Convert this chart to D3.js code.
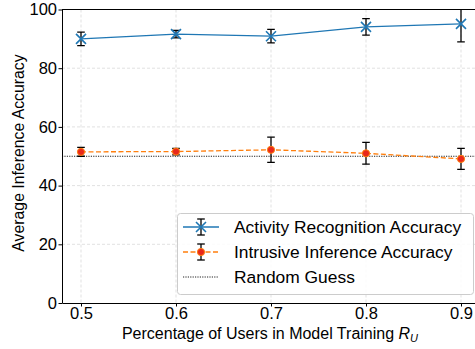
<!DOCTYPE html>
<html>
<head>
<meta charset="utf-8">
<script src="https://cdn.jsdelivr.net/npm/d3@7"></script>
<style>
  html, body { margin: 0; padding: 0; background: #fff; }
  svg { display: block; font-family: "Liberation Sans", Arial, sans-serif; }
</style>
</head>
<body>
<svg id="chart" width="475" height="349"></svg>
<script>
// Fraction of users used in model training
const ratios = [0.5, 0.6, 0.7, 0.8, 0.9];
// Activity recognition accuracy (mean, std)
const activityMean = [90.0, 91.6, 90.9, 94.1, 95.1];
const activityStd  = [2.3, 1.3, 2.3, 2.8, 6.1];
// Intrusive inference accuracy (mean, std)
const intrusiveMean = [51.5, 51.6, 52.2, 51.0, 49.1];
const intrusiveStd  = [1.5, 1.1, 4.3, 3.7, 3.6];
// Random guess baseline
const randomGuess = 50;

const xTicks = [0.5, 0.6, 0.7, 0.8, 0.9];
const yTicks = [0, 20, 40, 60, 80, 100];

(function () {
const svg = d3.select("#chart");
const pLeft = 62, pRight = 480, pTop = 9.5, pBottom = 303;

const x = d3.scaleLinear().domain([0.48, 0.92]).range([pLeft, pRight]);
const y = d3.scaleLinear().domain([0, 100]).range([pBottom, pTop]);

svg.append("defs").append("clipPath").attr("id", "plotclip")
  .append("rect").attr("x", pLeft).attr("y", pTop)
  .attr("width", pRight - pLeft).attr("height", pBottom - pTop);

// grid
const grid = svg.append("g");
grid.selectAll("line.gx").data(xTicks).join("line")
  .attr("x1", d => x(d)).attr("x2", d => x(d))
  .attr("y1", pTop).attr("y2", pBottom)
  .attr("stroke", "#d9d9d9").attr("stroke-width", 0.8).attr("stroke-dasharray", "3,2");
grid.selectAll("line.gy").data(yTicks.slice(1, -1)).join("line")
  .attr("x1", pLeft).attr("x2", pRight)
  .attr("y1", d => y(d)).attr("y2", d => y(d))
  .attr("stroke", "#d9d9d9").attr("stroke-width", 0.8).attr("stroke-dasharray", "3,2");

const plot = svg.append("g").attr("clip-path", "url(#plotclip)");

// random guess line
plot.append("line")
  .attr("x1", pLeft).attr("x2", pRight)
  .attr("y1", y(randomGuess)).attr("y2", y(randomGuess))
  .attr("stroke", "#222").attr("stroke-width", 1).attr("stroke-dasharray", "1.2,1.2");

function errorBars(g, means, stds) {
  const eb = g.append("g");
  ratios.forEach((r, i) => {
    const cx = x(r), lo = y(means[i] - stds[i]), hi = y(means[i] + stds[i]);
    eb.append("line").attr("x1", cx).attr("x2", cx).attr("y1", lo).attr("y2", hi)
      .attr("stroke", "#000").attr("stroke-width", 1.3);
    [lo, hi].forEach(v => eb.append("line")
      .attr("x1", cx - 3.8).attr("x2", cx + 3.8).attr("y1", v).attr("y2", v)
      .attr("stroke", "#000").attr("stroke-width", 1.3));
  });
}

const line = d3.line().x((d, i) => x(ratios[i])).y(d => y(d));

// activity recognition series
plot.append("path").datum(activityMean).attr("d", line)
  .attr("fill", "none").attr("stroke", "#1f77b4").attr("stroke-width", 1.3);
errorBars(plot, activityMean, activityStd);
function xMarker(g, cx, cy, s) {
  g.append("path")
    .attr("d", `M${cx - s},${cy - s}L${cx + s},${cy + s}M${cx - s},${cy + s}L${cx + s},${cy - s}`)
    .attr("stroke", "#1f77b4").attr("stroke-width", 1.6).attr("fill", "none");
}
activityMean.forEach((v, i) => xMarker(plot, x(ratios[i]), y(v), 5));

// intrusive inference series
plot.append("path").datum(intrusiveMean).attr("d", line)
  .attr("fill", "none").attr("stroke", "#ff7f0e").attr("stroke-width", 1.3)
  .attr("stroke-dasharray", "5,2.5");
errorBars(plot, intrusiveMean, intrusiveStd);
plot.selectAll("circle.pt").data(intrusiveMean).join("circle")
  .attr("cx", (d, i) => x(ratios[i])).attr("cy", d => y(d)).attr("r", 3.6)
  .attr("fill", "#e8281c").attr("stroke", "#ff7f0e").attr("stroke-width", 1);

// axes
const xAxis = svg.append("g").attr("transform", `translate(0,${pBottom})`)
  .call(d3.axisBottom(x).tickValues(xTicks).tickFormat(d3.format(".1f")).tickSize(3.5).tickSizeOuter(0));
const yAxis = svg.append("g").attr("transform", `translate(${pLeft},0)`)
  .call(d3.axisLeft(y).tickValues(yTicks).tickSize(3.5).tickSizeOuter(0));
[xAxis, yAxis].forEach(a => {
  a.select(".domain").attr("stroke", "#000").attr("stroke-width", 1);
  a.selectAll(".tick line").attr("stroke", "#000");
  a.selectAll(".tick text").attr("fill", "#000").attr("font-size", 16.5)
    .attr("font-family", "'Liberation Sans', Arial, sans-serif");
});
xAxis.selectAll(".tick text").attr("y", 4).attr("dy", "0.72em");
yAxis.selectAll(".tick text").attr("x", -5);
// top spine
svg.append("line").attr("x1", pLeft).attr("x2", pRight).attr("y1", pTop).attr("y2", pTop)
  .attr("stroke", "#000").attr("stroke-width", 1);

// axis labels
const xl = svg.append("text").attr("x", 270).attr("y", 338.5)
  .attr("text-anchor", "middle").attr("font-size", 16).attr("fill", "#000");
xl.append("tspan").text("Percentage of Users in Model Training ");
xl.append("tspan").attr("font-style", "italic").text("R");
xl.append("tspan").attr("font-style", "italic").attr("font-size", 11).attr("dy", 3).text("U");

svg.append("text").attr("transform", "translate(24,153) rotate(-90)")
  .attr("text-anchor", "middle").attr("font-size", 15.8).attr("fill", "#000")
  .text("Average Inference Accuracy");

// legend
const lg = svg.append("g");
lg.append("rect").attr("x", 177.5).attr("y", 213.5).attr("width", 296).attr("height", 81)
  .attr("rx", 3).attr("fill", "rgba(255,255,255,0.85)").attr("stroke", "#ccc").attr("stroke-width", 1);
const items = [
  { label: "Activity Recognition Accuracy", kind: "activity" },
  { label: "Intrusive Inference Accuracy", kind: "intrusive" },
  { label: "Random Guess", kind: "random" }
];
items.forEach((it, i) => {
  const cy = 227 + i * 25, x0 = 183, x1 = 219, cx = (x0 + x1) / 2;
  const g = lg.append("g");
  if (it.kind === "activity") {
    g.append("line").attr("x1", x0).attr("x2", x1).attr("y1", cy).attr("y2", cy)
      .attr("stroke", "#1f77b4").attr("stroke-width", 1.3);
  } else if (it.kind === "intrusive") {
    g.append("line").attr("x1", x0).attr("x2", x1).attr("y1", cy).attr("y2", cy)
      .attr("stroke", "#ff7f0e").attr("stroke-width", 1.3).attr("stroke-dasharray", "5,2.5");
  } else {
    g.append("line").attr("x1", x0).attr("x2", x1).attr("y1", cy).attr("y2", cy)
      .attr("stroke", "#222").attr("stroke-width", 1).attr("stroke-dasharray", "1.2,1.2");
  }
  if (it.kind !== "random") {
    g.append("line").attr("x1", cx).attr("x2", cx).attr("y1", cy - 8).attr("y2", cy + 8)
      .attr("stroke", "#000").attr("stroke-width", 1.3);
    [cy - 8, cy + 8].forEach(v => g.append("line").attr("x1", cx - 3.8).attr("x2", cx + 3.8)
      .attr("y1", v).attr("y2", v).attr("stroke", "#000").attr("stroke-width", 1.3));
    if (it.kind === "activity") xMarker(g, cx, cy, 5);
    else g.append("circle").attr("cx", cx).attr("cy", cy).attr("r", 3.6)
      .attr("fill", "#e8281c").attr("stroke", "#ff7f0e").attr("stroke-width", 1);
  }
  g.append("text").attr("x", 234).attr("y", cy).attr("dy", "0.36em")
    .attr("font-size", 17.4).attr("fill", "#000").text(it.label);
});
})();
</script>
</body>
</html>
